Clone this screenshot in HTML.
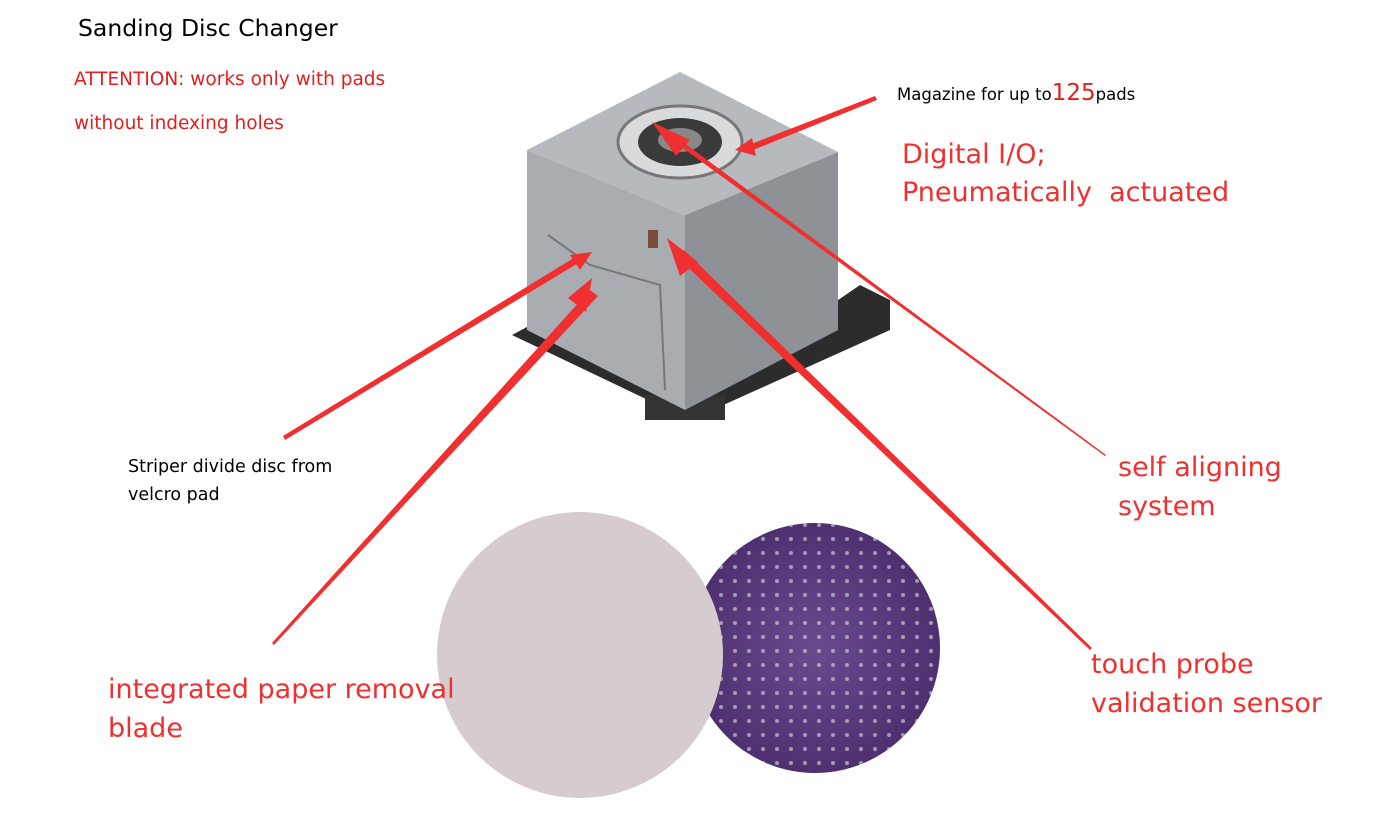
<!DOCTYPE html>
<html><head><meta charset="utf-8"><style>
body{margin:0;width:1396px;height:834px;background:#fff;position:relative;overflow:hidden;font-family:"DejaVu Sans","Noto Sans CJK SC",sans-serif}
.t{position:absolute;white-space:nowrap}
</style></head><body>
<svg width="1396" height="834" style="position:absolute;left:0;top:0">
<defs>
<radialGradient id="pd" cx="50%" cy="50%" r="50%"><stop offset="0" stop-color="#6a4a8e"/><stop offset="1" stop-color="#4e3070"/></radialGradient>
<pattern id="dots" width="14" height="14" patternUnits="userSpaceOnUse"><circle cx="7" cy="7" r="2" fill="#ddd"/></pattern>
</defs>
<polygon points="512,335 690,420 890,330 890,300 860,285 700,395 540,320" fill="#2c2c2c"/>
<rect x="645" y="395" width="80" height="25" fill="#333"/>
<polygon points="527,150 685,215 685,410 527,330" fill="#a9acb0"/>
<polygon points="685,215 838,152 838,330 685,410" fill="#8e9195"/>
<polygon points="527,150 680,72 838,152 685,215" fill="#b6b9bd"/>
<ellipse cx="680" cy="142" rx="62" ry="36" fill="#d9dadc" stroke="#777" stroke-width="3"/>
<ellipse cx="680" cy="142" rx="42" ry="24" fill="#3a3a3a"/>
<ellipse cx="680" cy="140" rx="22" ry="12" fill="#888"/>
<polyline points="548,235 590,265 660,285 665,390" fill="none" stroke="#777" stroke-width="2"/>
<rect x="648" y="230" width="10" height="18" fill="#7a4a3a"/>
<circle cx="815" cy="648" r="125" fill="url(#pd)"/>
<circle cx="815" cy="648" r="125" fill="url(#dots)" opacity="0.6"/>
<circle cx="580" cy="655" r="143" fill="#d6ccd0"/>
<g fill="#f03030">
<polygon points="875,96 877,100 748,152 746,146"/>
<polygon points="735,150 752,138 756,156"/>
<polygon points="1105,456 1106,455 668,131 665,135"/>
<polygon points="652,122 690,140 676,156"/>
<polygon points="1090,650 1092,648 684,250 676,256"/>
<polygon points="667,238 698,262 680,276"/>
<polygon points="272,643 274,645 598,296 590,290"/>
<polygon points="592,278 586,312 568,298"/>
<polygon points="283,436 285,440 580,262 577,256"/>
<polygon points="592,252 580,270 570,255"/>
</g>
</svg>
<div class="t" style="left:78px;top:14px;font-size:23.5px;color:#000">Sanding Disc Changer</div>
<div class="t" style="left:74px;top:69px;font-size:18.5px;color:#e02020">ATTENTION: works only with pads</div>
<div class="t" style="left:74px;top:113px;font-size:18.5px;color:#e02020">without indexing holes</div>
<div class="t" style="left:897px;top:80px;font-size:16.5px;color:#000">Magazine for up to<span style="color:#e02020;font-size:23px">125</span>pads</div>
<div class="t" style="left:902px;top:136px;font-size:27px;color:#f03030;line-height:38px">Digital I/O;<br>Pneumatically&nbsp; actuated</div>
<div class="t" style="left:128px;top:453px;font-size:17.5px;color:#000;line-height:28px">Striper divide disc from<br>velcro pad</div>
<div class="t" style="left:1118px;top:448px;font-size:27px;color:#f03030;line-height:39px">self aligning<br>system</div>
<div class="t" style="left:1091px;top:645px;font-size:27px;color:#f03030;line-height:39px">touch probe<br>validation sensor</div>
<div class="t" style="left:108px;top:670px;font-size:27px;color:#f03030;line-height:39px">integrated paper removal<br>blade</div>
</body></html>
